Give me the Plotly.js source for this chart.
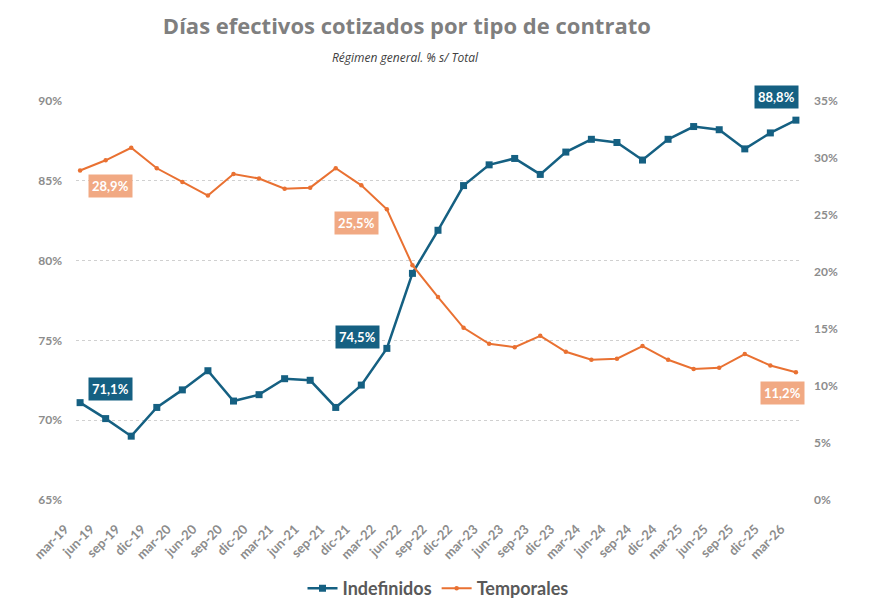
<!DOCTYPE html>
<html>
<head>
<meta charset="utf-8">
<script src="https://cdn.plot.ly/plotly-3.0.1.min.js"></script>
<style>
  html, body { margin: 0; padding: 0; background: #ffffff; }
  #chart { width: 870px; height: 613px; }
</style>
</head>
<body>
<div id="chart"></div>
<script>
const categories = [
  "mar-19","jun-19","sep-19","dic-19",
  "mar-20","jun-20","sep-20","dic-20",
  "mar-21","jun-21","sep-21","dic-21",
  "mar-22","jun-22","sep-22","dic-22",
  "mar-23","jun-23","sep-23","dic-23",
  "mar-24","jun-24","sep-24","dic-24",
  "mar-25","jun-25","sep-25","dic-25",
  "mar-26"
];

const indefinidos = [
  71.1, 70.1, 69.0, 70.8,
  71.9, 73.1, 71.2, 71.6,
  72.6, 72.5, 70.8, 72.2,
  74.5, 79.2, 81.9, 84.7,
  86.0, 86.4, 85.4, 86.8,
  87.6, 87.4, 86.3, 87.6,
  88.4, 88.2, 87.0, 88.0,
  88.8
];

const temporales = [
  28.9, 29.8, 30.9, 29.1,
  27.9, 26.7, 28.6, 28.2,
  27.3, 27.4, 29.1, 27.6,
  25.5, 20.6, 17.8, 15.1,
  13.7, 13.4, 14.4, 13.0,
  12.3, 12.4, 13.5, 12.3,
  11.5, 11.6, 12.8, 11.8,
  11.2
];

const leftTicks = [65, 70, 75, 80, 85, 90];
const rightTicks = [0, 5, 10, 15, 20, 25, 30, 35];

// Indices of the labelled points
const labelIdx = [0, 12, 28];

const BLUE = "#156082";
const ORANGE = "#E97132";
const ORANGE_LIGHT = "#F1A983";
const fmt = v => v.toFixed(1).replace(".", ",") + "%";

const traces = [
  {
    x: categories, y: indefinidos, name: "Indefinidos",
    type: "scatter", mode: "lines+markers",
    line: { color: BLUE, width: 2.5 },
    marker: { symbol: "square", size: 7, color: BLUE },
    yaxis: "y"
  },
  {
    x: categories, y: temporales, name: "Temporales",
    type: "scatter", mode: "lines+markers",
    line: { color: ORANGE, width: 2 },
    marker: { symbol: "circle", size: 4.5, color: ORANGE },
    yaxis: "y2"
  }
];

const blueShift = [[30, 14], [-29, 11], [-19, 23]];
const orangeShift = [[30, -15], [-30, -14], [-13, -21]];

const annotations = [];
labelIdx.forEach((i, k) => {
  annotations.push({
    x: categories[i], y: indefinidos[i], xref: "x", yref: "y",
    text: "<b>" + fmt(indefinidos[i]) + "</b>", showarrow: false,
    xshift: blueShift[k][0], yshift: blueShift[k][1],
    bgcolor: BLUE, borderpad: 3,
    font: { family: "Lato, 'Open Sans', sans-serif", size: 13, color: "#ffffff" }
  });
  annotations.push({
    x: categories[i], y: temporales[i], xref: "x", yref: "y2",
    text: "<b>" + fmt(temporales[i]) + "</b>", showarrow: false,
    xshift: orangeShift[k][0], yshift: orangeShift[k][1],
    bgcolor: ORANGE_LIGHT, borderpad: 3,
    font: { family: "Lato, 'Open Sans', sans-serif", size: 13, color: "#ffffff" }
  });
});

annotations.push({
  text: "<i>Régimen general. % s/ Total</i>",
  xref: "paper", yref: "paper", x: 0.455, y: 1, xanchor: "center", yanchor: "middle",
  yshift: 44, showarrow: false,
  font: { family: "'Open Sans', sans-serif", size: 12, color: "#404040" }
});

const tickFont = { family: "Lato, 'Open Sans', sans-serif", size: 12, color: "#8c8c8c", weight: "bold" };

const layout = {
  width: 870, height: 613,
  paper_bgcolor: "#ffffff", plot_bgcolor: "#ffffff",
  margin: { l: 76, r: 70, t: 101, b: 113, autoexpand: false },
  title: {
    text: "<b>Días efectivos cotizados por tipo de contrato</b>",
    x: 0.457, xanchor: "center", xref: "paper",
    y: 0.957, yanchor: "middle",
    font: { family: "'Open Sans', sans-serif", size: 22, color: "#7f7f7f" }
  },
  xaxis: {
    type: "category",
    range: [-0.16, 28.16],
    tickangle: -45,
    tickfont: { family: "Lato, 'Open Sans', sans-serif", size: 13, color: "#8c8c8c", weight: "bold" },
    showgrid: false, zeroline: false, showline: false,
    ticks: "", automargin: false,
    ticklabelstandoff: 18, ticklabelshift: -15
  },
  yaxis: {
    range: [65, 90],
    tickvals: leftTicks,
    ticktext: leftTicks.map(v => v + "%"),
    tickfont: tickFont,
    showgrid: true, gridcolor: "#d0d0d0", griddash: "dot", gridwidth: 1,
    zeroline: false, showline: false, ticks: "", automargin: false,
    ticklabelstandoff: 13
  },
  yaxis2: {
    range: [0, 35],
    overlaying: "y", side: "right",
    tickvals: rightTicks,
    ticktext: rightTicks.map(v => v + "%"),
    tickfont: tickFont,
    showgrid: false, zeroline: false, showline: false, ticks: "", automargin: false,
    ticklabelstandoff: 13
  },
  showlegend: true,
  legend: {
    orientation: "h", x: 0.5, xanchor: "center", y: -0.222, yanchor: "middle",
    font: { family: "Lato, 'Open Sans', sans-serif", size: 18, color: "#595959", weight: "bold" },
    itemwidth: 30, tracegroupgap: 0
  },
  annotations: annotations
};

Plotly.newPlot("chart", traces, layout, { displayModeBar: false, staticPlot: true });
</script>
</body>
</html>
